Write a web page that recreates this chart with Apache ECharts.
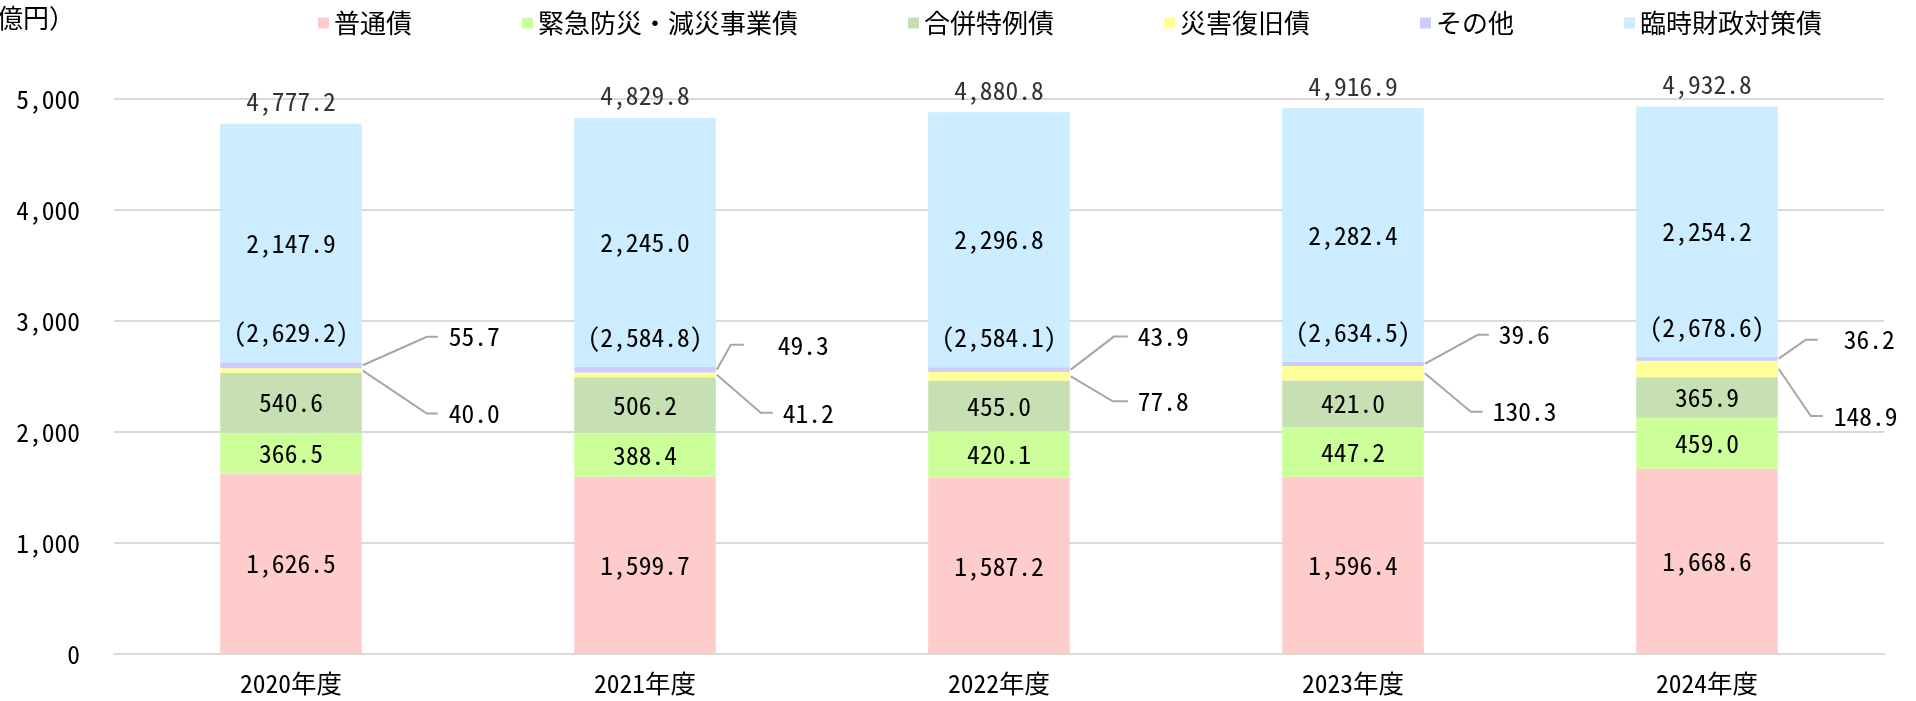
<!DOCTYPE html>
<html>
<head>
<meta charset="utf-8">
<script src="https://cdn.jsdelivr.net/npm/echarts@6/dist/echarts.min.js"></script>
<style>
html,body{margin:0;padding:0;background:#fff;}
#chart{width:1916px;height:701px;}
</style>
</head>
<body>
<div id="chart"></div>
<script>
const categories = ['2020年度','2021年度','2022年度','2023年度','2024年度'];
const seriesNames = ['普通債','緊急防災・減災事業債','合併特例債','災害復旧債','その他','臨時財政対策債'];
const futsu   = [1626.5, 1599.7, 1587.2, 1596.4, 1668.6];
const kinkyu  = [366.5, 388.4, 420.1, 447.2, 459.0];
const gappei  = [540.6, 506.2, 455.0, 421.0, 365.9];
const saigai  = [40.0, 41.2, 77.8, 130.3, 148.9];
const sonota  = [55.7, 49.3, 43.9, 39.6, 36.2];
const rinzai  = [2147.9, 2245.0, 2296.8, 2282.4, 2254.2];
const subtotals = [2629.2, 2584.8, 2584.1, 2634.5, 2678.6];
const totals  = [4777.2, 4829.8, 4880.8, 4916.9, 4932.8];
const yTicks  = [0, 1000, 2000, 3000, 4000, 5000];

// leader-line layout (pixels, relative to bar right edge / segment centre)
const upperLayout = [
  {elbow:65, dy:-28.5, h:11, tx:87},
  {elbow:15, dy:-25, h:13, tx:62},
  {elbow:44, dy:-33, h:14, tx:68},
  {elbow:54, dy:-29, h:11, tx:75},
  {elbow:28, dy:-19, h:12, tx:66}
];
const lowerLayout = [
  {elbow:65, dy:43, h:11, tx:87},
  {elbow:45, dy:38, h:12, tx:67},
  {elbow:43, dy:25, h:15, tx:68},
  {elbow:47, dy:38.5, h:12, tx:69},
  {elbow:33, dy:47, h:12, tx:56}
];

const colors = ['#FFCCCC','#CCFF99','#C6E0B4','#FFFF99','#CCCCFF','#CCECFF'];
const FONT = "'Noto Sans Mono CJK JP', 'Noto Sans CJK JP', monospace";
const FS = 25.5;
const LFS = 26;
const fmt = v => v.toLocaleString('en-US', {minimumFractionDigits:1, maximumFractionDigits:1});

const chart = echarts.init(document.getElementById('chart'), null, {renderer:'canvas'});

function barSeries(name, data, color, label) {
  return {
    name: name, type: 'bar', stack: 'total', barWidth: '40%',
    data: data,
    itemStyle: {color: color},
    label: label || {show:false},
    emphasis: {disabled:true}
  };
}
const inside = {show:true, position:'inside', color:'#000', fontSize:FS, fontFamily:FONT, formatter: p => fmt(p.value)};

const option = {
  animation: false,
  textStyle: {fontFamily: FONT},
  grid: {left:114, right:32, top:99, bottom:47},
  legend: {
    data: seriesNames,
    left: 313, top: 5,
    itemWidth: 11, itemHeight: 11, itemGap: 110,
    icon: 'rect',
    textStyle: {fontSize: LFS, color:'#000', fontFamily: FONT},
    selectedMode: false
  },
  graphic: [{
    type:'text', left:-29, top:5,
    style:{text:'（億円）', fontSize:LFS, fontFamily:FONT, fill:'#000'}
  }],
  xAxis: {
    type:'category', data: categories,
    axisLine:{show:true, lineStyle:{color:'#d9d9d9', width:2}},
    axisTick:{show:false},
    axisLabel:{fontSize:FS, color:'#000', margin:17, fontFamily:FONT}
  },
  yAxis: {
    type:'value', min: yTicks[0], max: yTicks[yTicks.length-1], interval: yTicks[1]-yTicks[0],
    axisLine:{show:false}, axisTick:{show:false},
    splitLine:{lineStyle:{color:'#d9d9d9', width:2}},
    axisLabel:{fontSize:FS, color:'#000', margin:34, fontFamily:FONT,
      formatter: v => v.toLocaleString('en-US')}
  },
  series: [
    barSeries(seriesNames[0], futsu, colors[0], inside),
    barSeries(seriesNames[1], kinkyu, colors[1], inside),
    barSeries(seriesNames[2], gappei, colors[2], inside),
    barSeries(seriesNames[3], saigai, colors[3]),
    barSeries(seriesNames[4], sonota, colors[4], {
      show:true, position:'top', distance:17, color:'#000', fontSize:FS, fontFamily:FONT,
      formatter: p => '(' + fmt(subtotals[p.dataIndex]) + ')'
    }),
    barSeries(seriesNames[5], rinzai, colors[5], inside),
    {
      name:'合計', type:'scatter', data: totals, symbolSize:1,
      itemStyle:{color:'transparent'},
      label:{show:true, position:'top', distance:9, color:'#000', fontSize:FS, fontFamily:FONT,
        formatter: p => fmt(p.value)},
      emphasis:{disabled:true}, z:5
    },
    {
      name:'leader', type:'custom', coordinateSystem:'cartesian2d',
      data: categories.map((c,i) => [i, subtotals[i]]),
      encode:{x:0, y:1},
      z: 6,
      renderItem: function(params, api) {
        const i = params.dataIndex;
        const base = futsu[i] + kinkyu[i] + gappei[i];
        const sTop = base + saigai[i];
        const oTop = sTop + sonota[i];
        const band = api.size([1, 0])[0];
        const cx = api.coord([i, 0])[0];
        const right = cx + band * 0.2;
        const ySai = (api.coord([i, base])[1] + api.coord([i, sTop])[1]) / 2;
        const yOth = (api.coord([i, sTop])[1] + api.coord([i, oTop])[1]) / 2;
        const children = [];
        const items = [
          {y0: yOth, L: upperLayout[i], text: fmt(sonota[i])},
          {y0: ySai, L: lowerLayout[i], text: fmt(saigai[i])}
        ];
        items.forEach(it => {
          const yl = it.y0 + it.L.dy;
          children.push({
            type:'polyline',
            shape:{points:[[right+1, it.y0],[right+it.L.elbow, yl],[right+it.L.elbow+it.L.h, yl]]},
            style:{stroke:'#a6a6a6', lineWidth:2, fill:null}
          });
          children.push({
            type:'text',
            style:{text: it.text, x: right + it.L.tx, y: yl, fill:'#000',
              fontSize: FS, fontFamily: FONT, align:'left', verticalAlign:'middle'}
          });
        });
        return {type:'group', children: children};
      }
    }
  ]
};
chart.setOption(option);
</script>
</body>
</html>
